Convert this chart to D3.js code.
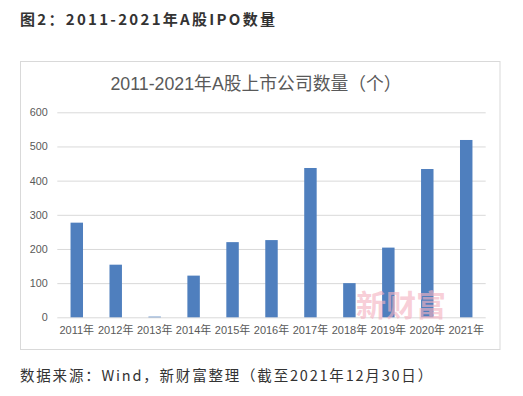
<!DOCTYPE html>
<html><head><meta charset="utf-8">
<script src="https://cdn.jsdelivr.net/npm/d3@7"></script>
<style>
html,body{margin:0;padding:0;background:#fff;}
svg{display:block;}
</style></head>
<body>
<svg id="c" width="523" height="396"></svg>
<script>
const years = ["2011年","2012年","2013年","2014年","2015年","2016年","2017年","2018年","2019年","2020年","2021年"];
const counts = [277, 154, 2, 122, 220, 226, 437, 100, 204, 434, 519];
const yTicks = [0, 100, 200, 300, 400, 500, 600];
const heading = "图2：2011-2021年A股IPO数量";
const chartTitle = "2011-2021年A股上市公司数量（个）";
const source = "数据来源：Wind，新财富整理（截至2021年12月30日）";
const watermark = "新财富";

const svg = d3.select("#c");
const font = "'Microsoft YaHei','Noto Sans CJK SC','Liberation Sans',sans-serif";

svg.append("text").attr("x", 20).attr("y", 25)
  .attr("font-family", font).attr("font-size", 15).attr("font-weight", "bold")
  .attr("letter-spacing", "2.3px").attr("fill", "#333").text(heading);

svg.append("rect").attr("x", 20.5).attr("y", 61.5).attr("width", 479.5).attr("height", 288)
  .attr("fill", "#fff").attr("stroke", "#d9d9d9").attr("stroke-width", 1);

svg.append("text").attr("x", 256).attr("y", 90).attr("text-anchor", "middle")
  .attr("font-family", "'Liberation Sans','Noto Sans CJK SC',sans-serif").attr("font-size", 17.8)
  .attr("fill", "#595959").text(chartTitle);

const x = d3.scaleBand().domain(years).range([57.3, 485.7]).paddingInner(0.68).paddingOuter(0.34);
const y = d3.scaleLinear().domain([0, 600]).range([317.3, 112.3]);

const yAxis = svg.append("g").attr("transform", "translate(57.3,0)")
  .call(d3.axisLeft(y).tickValues(yTicks).tickSize(-428.4).tickFormat(d3.format("d")));
yAxis.select(".domain").remove();
yAxis.selectAll(".tick line").attr("stroke", "#d9d9d9");
yAxis.selectAll(".tick text").attr("x", -9.5).attr("fill", "#595959")
  .attr("font-family", "'Liberation Sans',sans-serif").attr("font-size", 10.8);

const xAxis = svg.append("g").attr("transform", "translate(0,317.3)")
  .call(d3.axisBottom(x).tickSize(0));
xAxis.select(".domain").remove();
xAxis.selectAll(".tick text").attr("y", 9).attr("fill", "#595959")
  .attr("font-family", "'Liberation Sans','Noto Sans CJK SC',sans-serif").attr("font-size", 11);

svg.append("g").selectAll("rect").data(counts).join("rect")
  .attr("x", (d, i) => x(years[i]))
  .attr("width", x.bandwidth())
  .attr("y", d => y(d))
  .attr("height", d => y(0) - y(d))
  .attr("fill", "#4f7fbe");

svg.append("text").attr("x", 401).attr("y", 316).attr("text-anchor", "middle")
  .attr("font-family", "'Noto Sans CJK SC',serif").attr("font-size", 30).attr("font-weight", "bold")
  .attr("fill", "#f4b3c2").attr("fill-opacity", 0.65).text(watermark);

svg.append("text").attr("x", 20).attr("y", 381)
  .attr("font-family", font).attr("font-size", 14.5)
  .attr("letter-spacing", "1.8px").attr("fill", "#333").text(source);
</script>
</body></html>
